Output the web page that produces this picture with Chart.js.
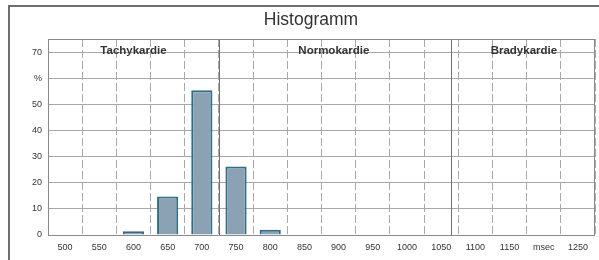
<!DOCTYPE html>
<html>
<head>
<meta charset="utf-8">
<script src="https://cdn.jsdelivr.net/npm/chart.js@4"></script>
<style>
  body { margin: 0; background: #fff; }
  #wrap { position: relative; width: 599px; height: 260px; overflow: hidden; }
  #frame { position: absolute; left: 8px; top: 5px; width: 700px; height: 400px; border: 2px solid #6f6f6f; box-sizing: border-box; }
  canvas { position: absolute; left: 0; top: 0; }
</style>
</head>
<body>
<div id="wrap">
  <div id="frame"></div>
  <canvas id="histChart" width="599" height="260"></canvas>
</div>
<script>
// RR intervals in msec, share of beats in %
const categories = [500, 550, 600, 650, 700, 750, 800, 850, 900, 950, 1000, 1050, 1100, 1150, 1200, 1250];
const xTickLabels = ['500', '550', '600', '650', '700', '750', '800', '850', '900', '950', '1000', '1050', '1100', '1150', 'msec', '1250'];
const percentValues = [0, 0, 1.4, 14.7, 55.4, 26.2, 2.0, 0, 0, 0, 0, 0, 0, 0, 0, 0];
const yTicks = [0, 10, 20, 30, 40, 50, 60, 70];
const yTickLabels = ['0', '10', '20', '30', '40', '50', '%', '70'];
const regionNames = ['Tachykardie', 'Normokardie', 'Bradykardie'];
const regionCenters = [600, 893, 1171];
const regionBorders = [725, 1065];

const textColor = '#333';
const gridColor = '#a8a8a8';

// maps msec onto the category axis
function msToPixel(scale, ms) {
  const x0 = scale.getPixelForValue(0);
  const step = scale.getPixelForValue(1) - x0;
  return x0 + (ms - categories[0]) / (categories[1] - categories[0]) * step;
}

const regionsPlugin = {
  id: 'regions',
  afterDatasetsDraw(chart) {
    const ctx = chart.ctx;
    const area = chart.chartArea;
    const x = chart.scales.x;
    const y = chart.scales.y;
    ctx.save();
    ctx.strokeStyle = '#6f6f6f';
    ctx.lineWidth = 1;
    regionBorders.forEach(ms => {
      const px = Math.round(msToPixel(x, ms)) + 0.5;
      ctx.beginPath();
      ctx.moveTo(px, area.top);
      ctx.lineTo(px, area.bottom);
      ctx.stroke();
    });
    ctx.strokeStyle = '#8a8a8a';
    ctx.strokeRect(Math.round(area.left) + 0.5, Math.round(area.top) + 0.5,
      Math.round(area.right - area.left) - 1, Math.round(area.bottom - area.top));
    ctx.fillStyle = textColor;
    ctx.font = 'bold 11.5px "Liberation Sans", Arial, sans-serif';
    ctx.textAlign = 'center';
    ctx.textBaseline = 'middle';
    const ty = y.getPixelForValue(70) - 1;
    regionNames.forEach((name, i) => {
      ctx.fillText(name, msToPixel(x, regionCenters[i]), ty);
    });
    ctx.restore();
  }
};

const ctx = document.getElementById('histChart').getContext('2d');
const histChart = new Chart(ctx, {
  type: 'bar',
  data: {
    labels: categories,
    datasets: [{
      label: 'Histogramm',
      data: percentValues,
      backgroundColor: '#8ba2b5',
      borderColor: '#2d6f86',
      borderWidth: 2,
      barPercentage: 0.62,
      categoryPercentage: 1
    }]
  },
  options: {
    responsive: false,
    animation: false,
    layout: { padding: { left: 27, right: 4, top: 10, bottom: 0 } },
    plugins: {
      legend: { display: false },
      tooltip: { enabled: false },
      title: {
        display: true,
        text: 'Histogramm',
        color: textColor,
        font: { family: '"Liberation Sans", Arial, sans-serif', size: 17.5, weight: 'normal', lineHeight: 1.2 },
        padding: { top: 0, bottom: 8 }
      }
    },
    scales: {
      x: {
        grid: {
          offset: true,
          color: gridColor,
          drawTicks: false,
          tickLength: 0
        },
        border: { display: false, dash: [8, 3] },
        ticks: {
          color: textColor,
          font: { family: '"Liberation Sans", Arial, sans-serif', size: 9 },
          padding: 7,
          maxRotation: 0,
          autoSkip: false,
          callback: (value, index) => xTickLabels[index]
        },
        afterFit: scale => { scale.height = 25; }
      },
      y: {
        min: 0,
        max: 75,
        grid: {
          color: gridColor,
          drawTicks: false,
          tickLength: 0
        },
        border: { display: false },
        ticks: {
          color: textColor,
          font: { family: '"Liberation Sans", Arial, sans-serif', size: 9 },
          padding: 6,
          stepSize: 10,
          callback: value => {
            const i = yTicks.indexOf(value);
            return i >= 0 ? yTickLabels[i] : '';
          }
        },
        afterFit: scale => { scale.width = 21; }
      }
    }
  },
  plugins: [regionsPlugin]
});
</script>
</body>
</html>
